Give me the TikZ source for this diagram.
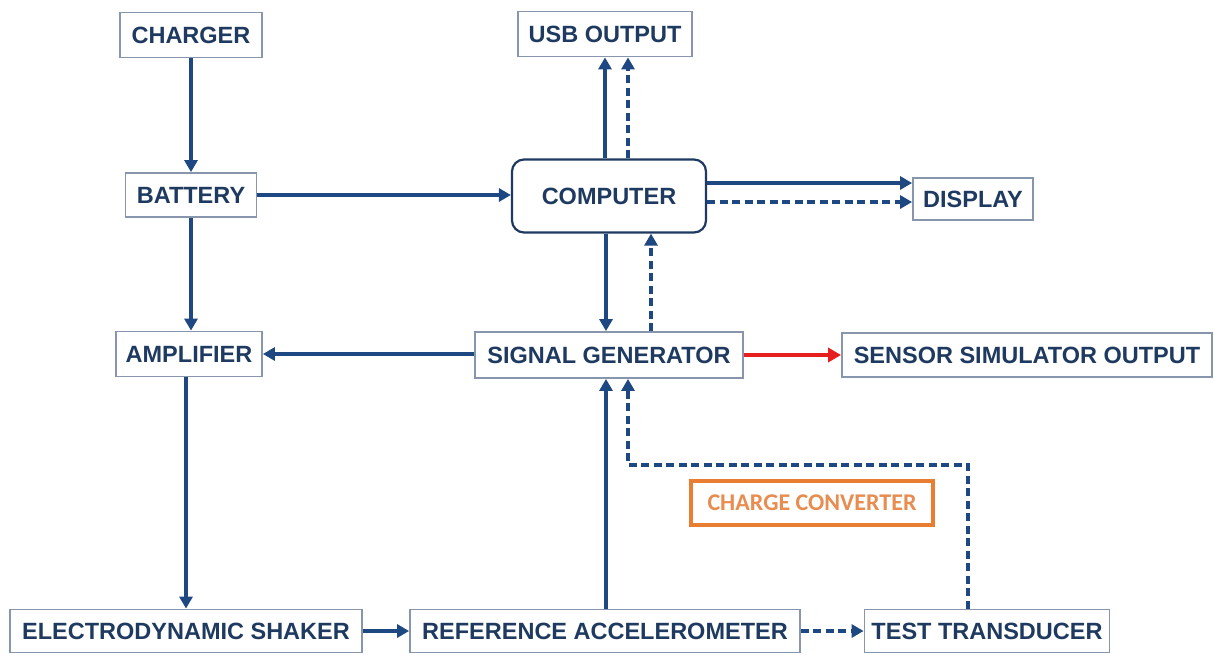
\documentclass[tikz,border=0pt]{standalone}
\usepackage{fontspec}
\setmainfont{Liberation Sans}
\newfontfamily\ccfont{Carlito}
\usetikzlibrary{arrows.meta}
\definecolor{navy}{RGB}{31,58,96}
\definecolor{linecol}{RGB}{30,72,130}
\definecolor{boxcol}{RGB}{135,150,172}
\definecolor{orangebox}{RGB}{233,125,50}
\definecolor{orangetxt}{RGB}{232,140,80}
\definecolor{redarrow}{RGB}{230,30,30}
\tikzset{
  blk/.style={draw=boxcol, line width=1.8pt, fill=white, inner sep=0pt,
    text=navy, font=\fontsize{23.5}{26}\selectfont\bfseries},
  arr/.style={draw=linecol, line width=3.2pt, -{Triangle[length=12pt,width=13pt]}},
  darr/.style={arr, dash pattern=on 8pt off 4.5pt},
  rarr/.style={draw=redarrow, line width=4.5pt, -{Triangle[length=13pt,width=14pt]}},
}
\begin{document}
\begin{tikzpicture}[x=1pt,y=-1pt]
\useasboundingbox[fill=white] (0,0) rectangle (1214,654);
% nodes
\node[blk, minimum width=142pt, minimum height=45pt] (charger) at (191,35) {CHARGER};
\node[blk, minimum width=131pt, minimum height=44pt] (battery) at (191,195) {BATTERY};
\node[blk, minimum width=174pt, minimum height=45pt] (usb) at (605,34) {USB OUTPUT};
\node[blk, draw=navy, line width=2.2pt, rounded corners=12pt, minimum width=194pt, minimum height=73pt] (computer) at (609,196) {COMPUTER};
\node[blk, minimum width=120pt, minimum height=42pt] (display) at (973,199) {DISPLAY};
\node[blk, minimum width=146pt, minimum height=45pt] (amp) at (189,354) {AMPLIFIER};
\node[blk, minimum width=268pt, minimum height=46pt] (sg) at (609,355) {SIGNAL GENERATOR};
\node[blk, minimum width=370pt, minimum height=44pt] (sso) at (1027,355) {SENSOR SIMULATOR OUTPUT};
\node[draw=orangebox, line width=4.5pt, inner sep=0pt, minimum width=242pt, minimum height=44pt,
  text=orangetxt, font=\ccfont\fontsize{24}{26}\selectfont\bfseries] (cc) at (812,503) {CHARGE CONVERTER};
\node[blk, minimum width=352pt, minimum height=43pt] (shaker) at (186,631) {ELECTRODYNAMIC SHAKER};
\node[blk, minimum width=390pt, minimum height=43pt] (refacc) at (605,631) {REFERENCE ACCELEROMETER};
\node[blk, minimum width=245pt, minimum height=43pt] (tt) at (987,631) {TEST TRANSDUCER};
\coordinate (bend) at (628,465);
% connectors
\draw[arr] (charger.south) -- (battery.north);
\draw[arr] (battery.east) -- ([yshift=1pt]computer.west);
\draw[arr] (battery.south) -- (battery.south |- amp.north);
\draw[arr] (amp.south -| shaker.north) -- (shaker.north);
\draw[arr] ([xshift=-4pt]computer.north) -- (usb.south);
\draw[darr] ([xshift=19pt]computer.north) -- ([xshift=23pt]usb.south);
\draw[arr] ([yshift=13pt]computer.east) -- ([yshift=16pt]display.west);
\draw[darr] ([yshift=-6pt]computer.east) -- ([yshift=-3pt]display.west);
\draw[arr] ([xshift=-3pt]computer.south) -- ([xshift=-3pt]sg.north);
\draw[darr] ([xshift=42pt]sg.north) -- ([xshift=42pt]computer.south);
\draw[arr] ([yshift=1pt]sg.west) -- (amp.east);
\draw[rarr] (sg.east) -- (sso.west);
\draw[arr] ([xshift=1pt]refacc.north) -- ([xshift=-3pt]sg.south);
\draw[darr] ([xshift=-19pt]tt.north) |- (bend) -- ([xshift=19pt]sg.south);
\draw[arr] (shaker.east) -- (refacc.west);
\draw[darr] (refacc.east) -- (tt.west);
\end{tikzpicture}
\end{document}
